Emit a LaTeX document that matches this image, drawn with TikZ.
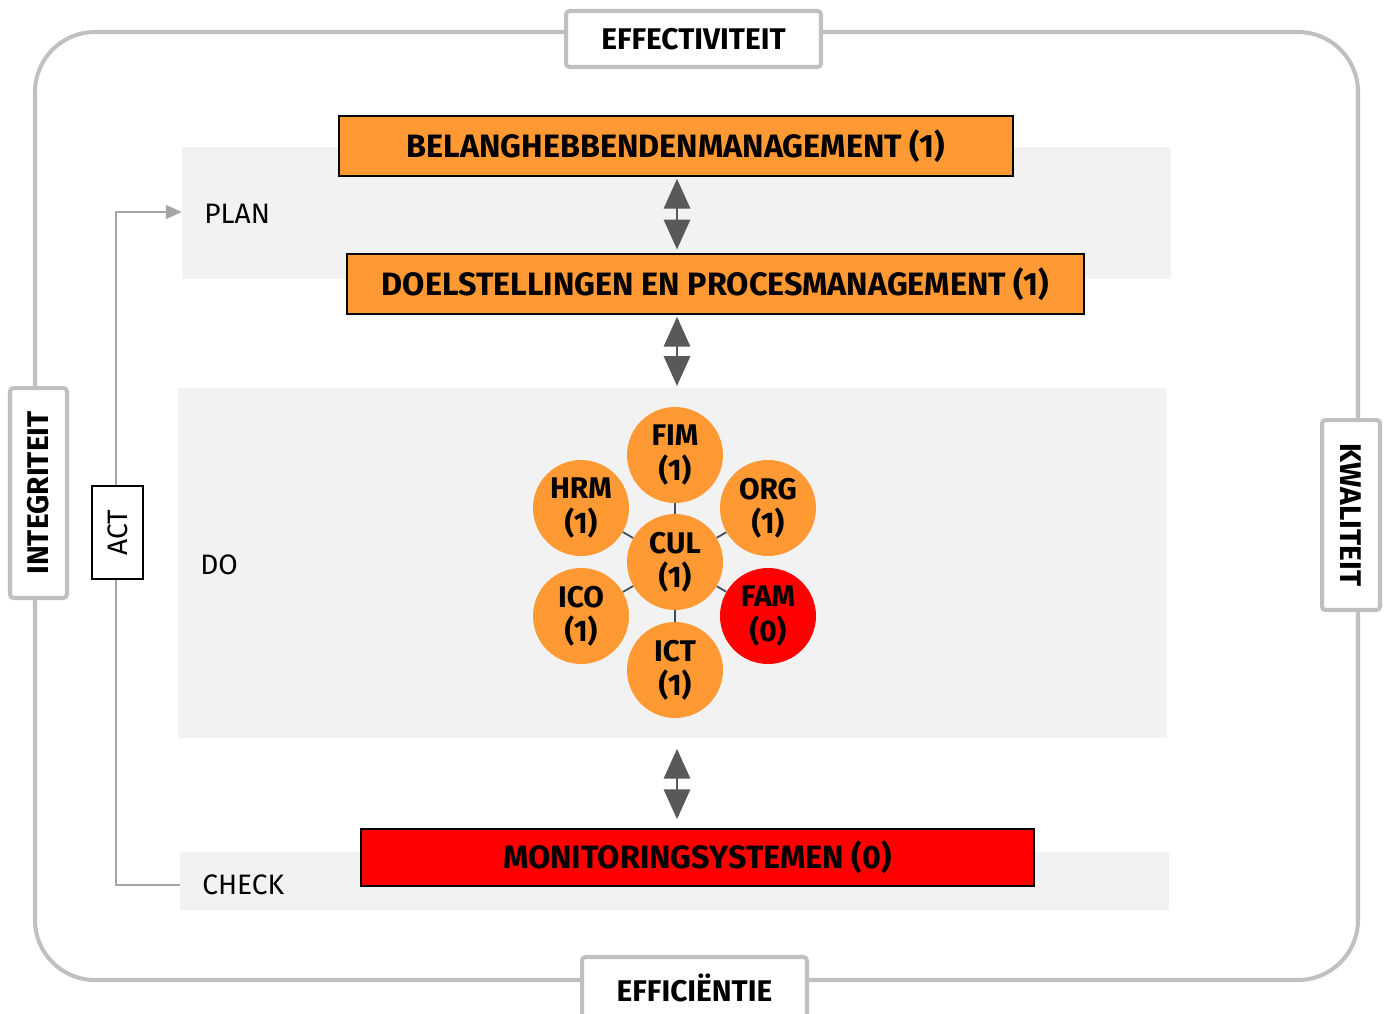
\documentclass[tikz,border=0pt]{standalone}
\usepackage{fontspec}
\setmainfont{Fira Sans}
\usetikzlibrary{arrows.meta,positioning}
\definecolor{bandgray}{HTML}{F2F2F2}
\definecolor{framegray}{HTML}{C0C0C0}
\definecolor{boxorange}{HTML}{FF9933}
\definecolor{arrowgray}{HTML}{595959}
\definecolor{spokecolor}{HTML}{3F4A5A}
\definecolor{actgray}{HTML}{A6A6A6}
\tikzset{
  band/.style={fill=bandgray, draw=none, inner sep=0pt},
  phase/.style={anchor=west, inner sep=0pt, font=\fontsize{16}{18}\selectfont},
  bigbox/.style={draw=black, line width=1.2pt, inner sep=0pt, minimum height=1.2cm,
    font=\bfseries\fontsize{18.4}{20}\selectfont},
  criterion/.style={draw=framegray, fill=white, line width=2.3pt, rounded corners=2pt,
    inner sep=0pt, font=\bfseries\fontsize{17}{19}\selectfont},
  petal/.style={circle, fill=boxorange, minimum size=1.92cm, inner sep=0pt, align=center,
    font=\bfseries\fontsize{17}{19.5}\selectfont},
  spoke/.style={draw=spokecolor, line width=1pt},
  dblarrow/.style={draw=arrowgray, fill=arrowgray, line width=1.3pt,
    {Triangle[width=15pt,length=17pt]}-{Triangle[width=15pt,length=17pt]}},
  actline/.style={draw=actgray, line width=0.8pt}
}
\begin{document}
\begin{tikzpicture}[x=0.02cm, y=-0.02cm]
  \useasboundingbox (0,0) rectangle (1386,1014);
  % outer frame
  \draw[framegray, line width=2.3pt, rounded corners=1.2cm] (35,32) rectangle (1358,980);
  % phase bands
  \node[band, minimum width=19.78cm, minimum height=2.64cm] (planband) at (676.5,213) {};
  \node[band, minimum width=19.78cm, minimum height=7cm] (doband) at (672.5,563) {};
  \node[band, minimum width=19.78cm, minimum height=1.16cm] (checkband) at (674.5,881) {};
  \node[phase] (plan) at (204,214) {PLAN};
  \node[phase] (do) at (200,565) {DO};
  \node[phase] (check) at (202,885) {CHECK};
  % main boxes
  \node[bigbox, fill=boxorange, minimum width=13.48cm] (belang) at (676,146) {BELANGHEBBENDENMANAGEMENT (1)};
  \node[bigbox, fill=boxorange, minimum width=14.74cm] (doel) at (715.5,284) {DOELSTELLINGEN EN PROCESMANAGEMENT (1)};
  \node[bigbox, fill=red, minimum width=13.46cm, minimum height=1.14cm] (monitor) at (697.5,857.5) {MONITORINGSYSTEMEN (0)};
  % arrows between levels
  \coordinate (axis) at (677,0);
  \draw[dblarrow, shorten <=1pt, shorten >=2pt] (axis |- belang.south) -- (axis |- doel.north);
  \draw[dblarrow, shorten <=1pt, shorten >=1pt] (axis |- doel.south) -- (axis |- doband.north);
  \draw[dblarrow, shorten <=6pt, shorten >=5pt] (axis |- doband.south) -- (axis |- monitor.north);
  % act feedback loop
  \coordinate (turn) at (116,212);
  \draw[actline, -{Triangle[width=8pt,length=9pt]}] (checkband.west |- check) -| (turn) -- (planband.west |- turn);
  \node[draw=black, fill=white, line width=0.8pt, rotate=90, minimum width=1.86cm, minimum height=1.02cm,
    inner sep=0pt, font=\fontsize{16}{18}\selectfont] (act) at (117.5,532.5) {ACT};
  % domains
  \node[petal] (cul) at (675,562) {CUL\\(1)};
  \node[petal] (fim) at (675,455) {FIM\\(1)};
  \node[petal] (ict) at (675,670) {ICT\\(1)};
  \node[petal] (hrm) at (581,508) {HRM\\(1)};
  \node[petal] (org) at (768,508) {ORG\\(1)};
  \node[petal] (ico) at (581,616) {ICO\\(1)};
  \node[petal, fill=red] (fam) at (768,616) {FAM\\(0)};
  \foreach \p in {fim,org,fam,ict,ico,hrm} {
    \draw[spoke] (cul) -- (\p);
  }
  % criteria on the frame
  \node[criterion, minimum width=5.1cm, minimum height=1.12cm] (effect) at (693.5,39) {EFFECTIVITEIT};
  \node[criterion, minimum width=4.5cm, minimum height=1.46cm, text depth=0.25cm] (effic) at (694.5,993.5) {EFFICIËNTIE};
  \node[criterion, rotate=90, minimum width=4.2cm, minimum height=1.14cm] (integ) at (38.5,493) {INTEGRITEIT};
  \node[criterion, rotate=-90, minimum width=3.8cm, minimum height=1.16cm] (kwal) at (1351,515) {KWALITEIT};
\end{tikzpicture}
\end{document}
